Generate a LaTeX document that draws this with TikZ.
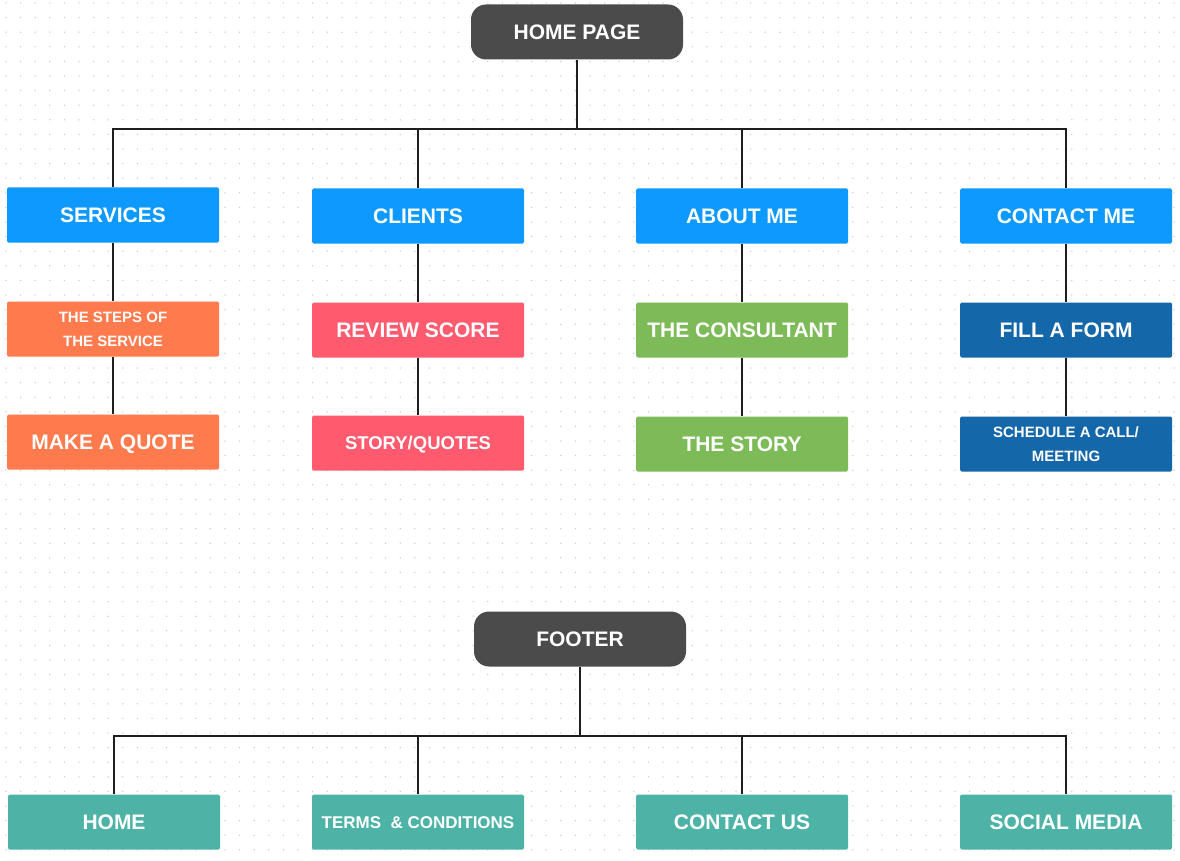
\documentclass[tikz,border=0pt]{standalone}
\usepackage{fontspec}
\setmainfont{Liberation Sans}
\usetikzlibrary{positioning}

\definecolor{hubgray}{HTML}{4B4B4B}
\definecolor{pageblue}{HTML}{0E99FF}
\definecolor{svcorange}{HTML}{FF7A4D}
\definecolor{clientpink}{HTML}{FF5A6E}
\definecolor{aboutgreen}{HTML}{7DBB58}
\definecolor{contactblue}{HTML}{1467A9}
\definecolor{footteal}{HTML}{4DB3A6}
\definecolor{gridgray}{HTML}{C8C8C8}
\definecolor{linkgray}{HTML}{1E1E1E}

\tikzset{
  basebox/.style = {
    minimum width=212, minimum height=55, inner sep=0pt,
    rounded corners=1.5, text=white, align=center
  },
  box/.style = {
    basebox, text height=15, text depth=0pt,
    font=\bfseries\fontsize{21}{24}\selectfont
  },
  smallbox/.style = {basebox, font=\bfseries\fontsize{15}{24}\selectfont},
  hub/.style = {box, fill=hubgray, rounded corners=15},
  link/.style = {draw=linkgray, line width=1.5}
}

\begin{document}
\begin{tikzpicture}[x=1pt, y=-1pt]

    \useasboundingbox (0,0) rectangle (1180,861);
    \fill[white] (0,0) rectangle (1180,861);

    % Dot grid
    \foreach \i in {0,...,80} {
      \foreach \j in {0,...,58} {
        \fill[gridgray] (6+14.6*\i, 3+14.6*\j) circle (0.75);
      }
    }

    %% Main pages

    % Home
    \node[hub] (home) at (577,32) {HOME PAGE};

    % First level
    \node[box, fill=pageblue] (services) at (113,215) {SERVICES};
    \node[box, fill=pageblue] (clients) at (418,216) {CLIENTS};
    \node[box, fill=pageblue] (about) at (742,216) {ABOUT ME};
    \node[box, fill=pageblue] (contact) at (1066,216) {CONTACT ME};

    % Second level
    \node[smallbox, fill=svcorange] (steps) at (113,329) {THE STEPS OF\\THE SERVICE};
    \node[box, fill=clientpink] (review) at (418,330) {REVIEW SCORE};
    \node[box, fill=aboutgreen] (consultant) at (742,330) {THE CONSULTANT};
    \node[box, fill=contactblue] (form) at (1066,330) {FILL A FORM};

    % Third level
    \node[box, fill=svcorange] (quote) at (113,442) {MAKE A QUOTE};
    \node[box, fill=clientpink, text height=13.3,
          font=\bfseries\fontsize{18.5}{24}\selectfont] (story) at (418,443) {STORY/QUOTES};
    \node[box, fill=aboutgreen] (thestory) at (742,444) {THE STORY};
    \node[smallbox, fill=contactblue] (schedule) at (1066,444) {SCHEDULE A CALL/\\MEETING};

    % Connectors
    \coordinate (mainbus) at (577,129);
    \draw[link] (home.south) -- (mainbus);
    \draw[link] (services.north) |- (contact.north |- mainbus) -- (contact.north);
    \foreach \n in {clients, about}
      \draw[link] (\n.north) -- (\n.north |- mainbus);
    \draw[link] (services) -- (steps) -- (quote);
    \draw[link] (clients) -- (review) -- (story);
    \draw[link] (about) -- (consultant) -- (thestory);
    \draw[link] (contact) -- (form) -- (schedule);

    %% Footer

    \node[hub] (footer) at (580,639) {FOOTER};

    \node[box, fill=footteal] (fhome) at (114,822) {HOME};
    \node[box, fill=footteal, text height=12.2,
          font=\bfseries\fontsize{17}{24}\selectfont] (terms) at (418,822) {TERMS\ \ \&\ CONDITIONS};
    \node[box, fill=footteal] (contactus) at (742,822) {CONTACT US};
    \node[box, fill=footteal] (social) at (1066,822) {SOCIAL MEDIA};

    \coordinate (footbus) at (580,736);
    \draw[link] (footer.south) -- (footbus);
    \draw[link] (fhome.north) |- (social.north |- footbus) -- (social.north);
    \foreach \n in {terms, contactus}
      \draw[link] (\n.north) -- (\n.north |- footbus);

\end{tikzpicture}
\end{document}
